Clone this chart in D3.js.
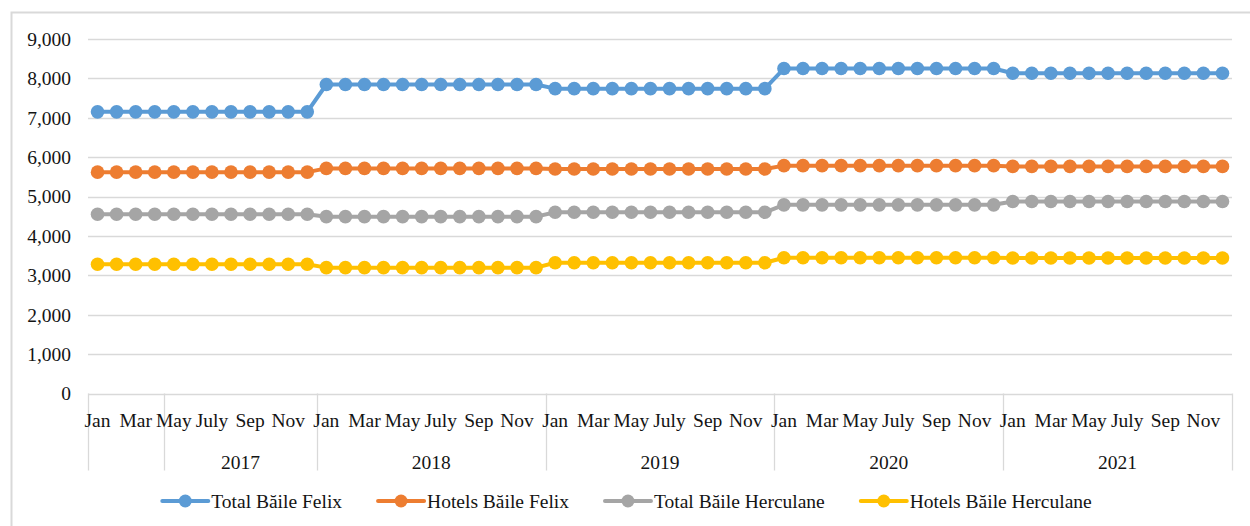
<!DOCTYPE html>
<html>
<head>
<meta charset="utf-8">
<script src="https://cdn.jsdelivr.net/npm/d3@7"></script>
<style>
  body { margin: 0; background: #fff; }
  svg text { font-family: "Liberation Serif", "Times New Roman", serif; fill: #141414; }
</style>
</head>
<body>
<div id="chart"></div>
<script>
// categories
const years = ["2017", "2018", "2019", "2020", "2021"];
const months = ["Jan", "Feb", "Mar", "Apr", "May", "June", "July", "Aug", "Sep", "Oct", "Nov", "Dec"];
// group boundaries on the category axis (in months), as seen in the picture
const separators = [0, 4, 12, 24, 36, 48, 60];
const yTicks = [0, 1000, 2000, 3000, 4000, 5000, 6000, 7000, 8000, 9000];

const seriesNames = ["Total Băile Felix", "Hotels Băile Felix", "Total Băile Herculane", "Hotels Băile Herculane"];
const seriesColors = ["#5B9BD5", "#ED7D31", "#A5A5A5", "#FFC000"];

// monthly values, Jan 2017 .. Dec 2021
const totalFelix = [
  7150, 7150, 7150, 7150, 7150, 7150, 7150, 7150, 7150, 7150, 7150, 7150,
  7845, 7845, 7845, 7845, 7845, 7845, 7845, 7845, 7845, 7845, 7845, 7845,
  7740, 7740, 7740, 7740, 7740, 7740, 7740, 7740, 7740, 7740, 7740, 7740,
  8250, 8250, 8250, 8250, 8250, 8250, 8250, 8250, 8250, 8250, 8250, 8250,
  8130, 8130, 8130, 8130, 8130, 8130, 8130, 8130, 8130, 8130, 8130, 8130
];
const hotelsFelix = [
  5620, 5620, 5620, 5620, 5620, 5620, 5620, 5620, 5620, 5620, 5620, 5620,
  5715, 5715, 5715, 5715, 5715, 5715, 5715, 5715, 5715, 5715, 5715, 5715,
  5700, 5700, 5700, 5700, 5700, 5700, 5700, 5700, 5700, 5700, 5700, 5700,
  5785, 5785, 5785, 5785, 5785, 5785, 5785, 5785, 5785, 5785, 5785, 5785,
  5765, 5765, 5765, 5765, 5765, 5765, 5765, 5765, 5765, 5765, 5765, 5765
];
const totalHerculane = [
  4550, 4550, 4550, 4550, 4550, 4550, 4550, 4550, 4550, 4550, 4550, 4550,
  4490, 4490, 4490, 4490, 4490, 4490, 4490, 4490, 4490, 4490, 4490, 4490,
  4600, 4600, 4600, 4600, 4600, 4600, 4600, 4600, 4600, 4600, 4600, 4600,
  4790, 4790, 4790, 4790, 4790, 4790, 4790, 4790, 4790, 4790, 4790, 4790,
  4875, 4875, 4875, 4875, 4875, 4875, 4875, 4875, 4875, 4875, 4875, 4875
];
const hotelsHerculane = [
  3280, 3280, 3280, 3280, 3280, 3280, 3280, 3280, 3280, 3280, 3280, 3280,
  3195, 3195, 3195, 3195, 3195, 3195, 3195, 3195, 3195, 3195, 3195, 3195,
  3320, 3320, 3320, 3320, 3320, 3320, 3320, 3320, 3320, 3320, 3320, 3320,
  3445, 3445, 3445, 3445, 3445, 3445, 3445, 3445, 3445, 3445, 3445, 3445,
  3440, 3440, 3440, 3440, 3440, 3440, 3440, 3440, 3440, 3440, 3440, 3440
];
const seriesValues = [totalFelix, hotelsFelix, totalHerculane, hotelsHerculane];

// size + plot area
var width = 1250;
var height = 526;
var margin = { top: 39, right: 18, bottom: 132, left: 88 };
var gridColor = "#d9d9d9";
var fontSize = 19.5;

var svg = d3.select("#chart")
  .append("svg")
  .attr("width", width)
  .attr("height", height);

// outer chart border
svg.append("rect")
  .attr("x", 11.5).attr("y", 12.5)
  .attr("width", width).attr("height", height)
  .attr("fill", "none")
  .attr("stroke", gridColor)
  .attr("stroke-width", 2);

var nMonths = years.length * months.length;
var x = d3.scaleBand()
  .domain(d3.range(nMonths))
  .range([margin.left, width - margin.right]);
var bw = x.bandwidth();
var cx = i => x(i) + bw / 2;
// boundary position for a month index (0..60)
var edge = d3.scaleLinear().domain([0, nMonths]).range([margin.left, width - margin.right]);

var y = d3.scaleLinear()
  .domain([0, 9000])
  .range([height - margin.bottom - 0.5, margin.top]);

// horizontal gridlines
svg.append("g")
  .selectAll("line")
  .data(yTicks)
  .enter()
  .append("line")
  .attr("x1", margin.left).attr("x2", width - margin.right)
  .attr("y1", d => Math.round(y(d)) + 0.5).attr("y2", d => Math.round(y(d)) + 0.5)
  .attr("stroke", gridColor)
  .attr("stroke-width", 1.3);

// y labels
svg.append("g")
  .selectAll("text")
  .data(yTicks)
  .enter()
  .append("text")
  .attr("x", 71)
  .attr("y", d => y(d))
  .attr("dy", "0.35em")
  .attr("text-anchor", "end")
  .style("font-size", fontSize + "px")
  .text(d3.format(","));

// category axis: separator lines
var axisY = y(0);
svg.append("g")
  .selectAll("line")
  .data(separators)
  .enter()
  .append("line")
  .attr("x1", d => Math.round(edge(d)) + 0.5).attr("x2", d => Math.round(edge(d)) + 0.5)
  .attr("y1", axisY).attr("y2", axisY + 77)
  .attr("stroke", gridColor)
  .attr("stroke-width", 1.3);

// month labels (every other month)
svg.append("g")
  .selectAll("text")
  .data(d3.range(nMonths).filter(i => i % 2 === 0))
  .enter()
  .append("text")
  .attr("x", d => cx(d))
  .attr("y", axisY + 33)
  .attr("text-anchor", "middle")
  .style("font-size", fontSize + "px")
  .text(d => months[d % 12]);

// year labels, centered between their separators
svg.append("g")
  .selectAll("text")
  .data(years)
  .enter()
  .append("text")
  .attr("x", (d, i) => (edge(separators[i + 1]) + edge(separators[i + 2])) / 2)
  .attr("y", axisY + 75)
  .attr("text-anchor", "middle")
  .style("font-size", fontSize + "px")
  .text(d => d);

// series lines + markers
var line = d3.line()
  .x((d, i) => cx(i))
  .y(d => y(d));

seriesValues.forEach((vals, s) => {
  var g = svg.append("g");
  g.append("path")
    .datum(vals)
    .attr("d", line)
    .attr("fill", "none")
    .attr("stroke", seriesColors[s])
    .attr("stroke-width", 4)
    .attr("stroke-linejoin", "round");
  g.selectAll("circle")
    .data(vals)
    .enter()
    .append("circle")
    .attr("cx", (d, i) => cx(i))
    .attr("cy", d => y(d))
    .attr("r", 6.8)
    .attr("fill", seriesColors[s]);
});

// legend
var legend = svg.append("g");
var legendY = 501;
var items = seriesNames.map((name, i) => {
  var t = legend.append("text")
    .attr("y", legendY)
    .attr("dy", "0.35em")
    .style("font-size", fontSize + "px")
    .text(name);
  return { name, t, w: t.node().getComputedTextLength(), color: seriesColors[i] };
});
var symW = 46, symGap = 3, itemGap = 36;
var total = d3.sum(items, d => symW + symGap + d.w) + itemGap * (items.length - 1);
var lx = 627 - total / 2;
items.forEach(it => {
  legend.append("line")
    .attr("x1", lx).attr("x2", lx + symW)
    .attr("y1", legendY).attr("y2", legendY)
    .attr("stroke", it.color)
    .attr("stroke-width", 4)
    .attr("stroke-linecap", "round");
  legend.append("circle")
    .attr("cx", lx + symW / 2)
    .attr("cy", legendY)
    .attr("r", 6.5)
    .attr("fill", it.color);
  it.t.attr("x", lx + symW + symGap);
  lx += symW + symGap + it.w + itemGap;
});
</script>
</body>
</html>
